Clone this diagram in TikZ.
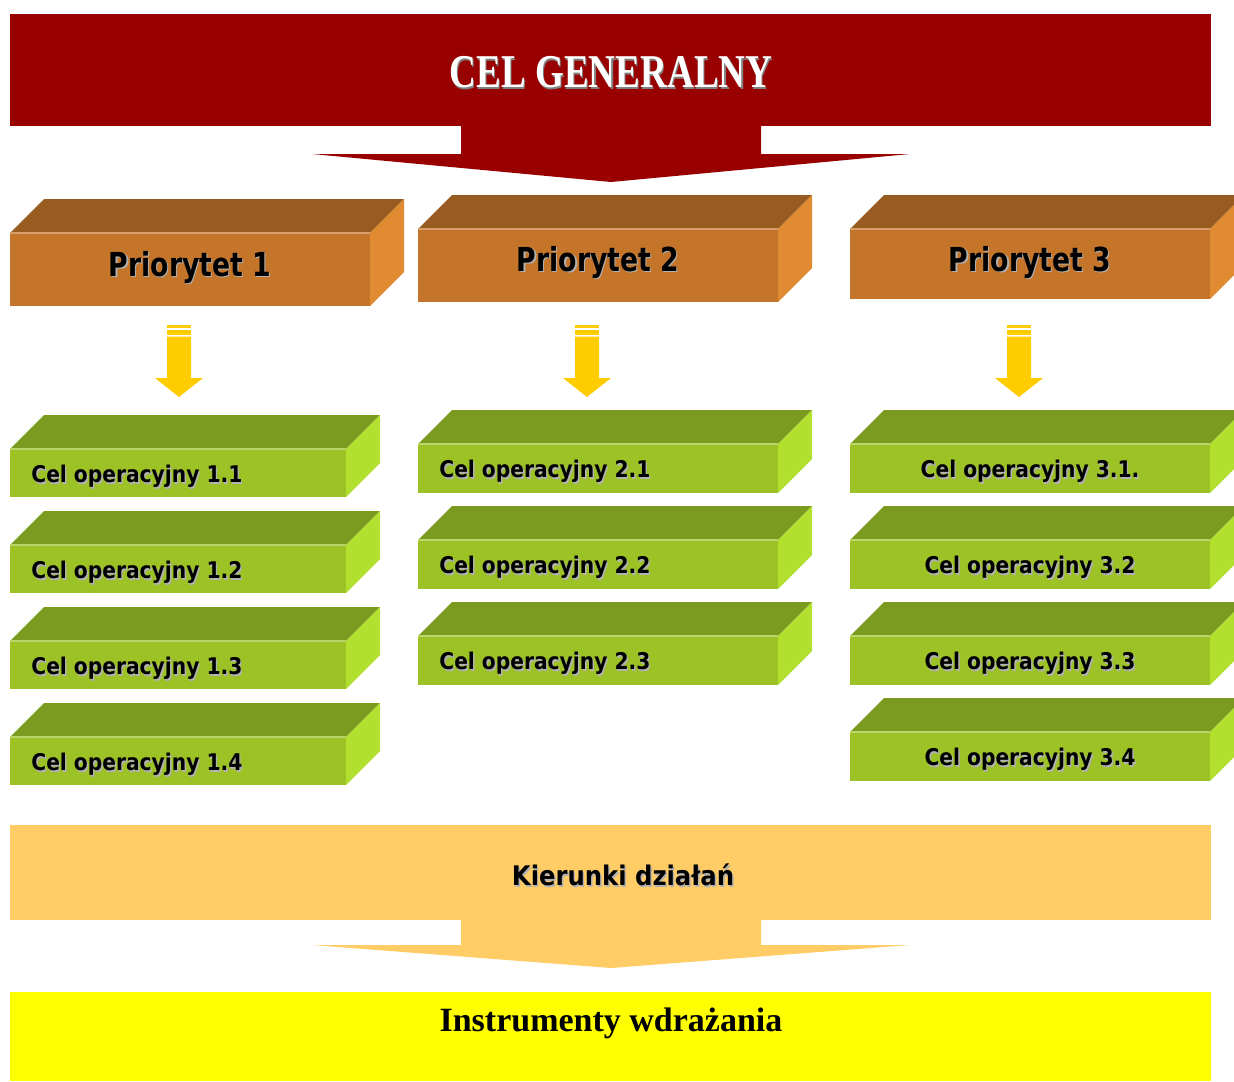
\documentclass[tikz,border=0pt]{standalone}
\usepackage{fontspec}
\setmainfont{Liberation Serif}
\setsansfont{DejaVu Sans}
\usepackage{graphicx}

\definecolor{celred}{HTML}{990000}
\definecolor{prfront}{HTML}{C4752A}
\definecolor{prtop}{HTML}{995C20}
\definecolor{prside}{HTML}{E08A32}
\definecolor{opfront}{HTML}{9CC226}
\definecolor{optop}{HTML}{7A9A20}
\definecolor{opside}{HTML}{B2E02E}
\definecolor{kierfill}{HTML}{FFCC66}
\definecolor{instfill}{HTML}{FFFF00}
\definecolor{arryel}{HTML}{FFCC00}

% text with a small grey shadow, squeezed sideways
\newcommand{\cien}[3]{\scalebox{#1}[1]{\makebox[0pt][l]{\hspace{0.8pt}\raisebox{-0.8pt}{\textcolor{#2}{#3}}}#3}}

% block: name, x, y (front top), width, height, colour prefix
\newcommand{\klocek}[6]{%
  \fill[#6front] (#2,#3) rectangle (#2+#4,#3+#5);
  \fill[#6top] (#2,#3) -- (#2+34,#3-34) -- (#2+#4+34,#3-34) -- (#2+#4,#3) -- cycle;
  \fill[#6side] (#2+#4,#3) -- (#2+#4+34,#3-34) -- (#2+#4+34,#3+#5-34) -- (#2+#4,#3+#5) -- cycle;
  \draw[#6front!70!white, line width=0.6pt] (#2,#3) -- (#2+#4,#3);
  \coordinate (#1) at (#2+#4/2,#3+#5/2);
}

% small yellow arrow, centre x
\newcommand{\strzalka}[1]{%
  \fill[arryel] (#1-12,325) rectangle (#1+12,328);
  \fill[arryel] (#1-12,330) rectangle (#1+12,334.5);
  \fill[arryel] (#1-12,336.5) -- (#1+12,336.5) -- (#1+12,378) -- (#1+24,378)
    -- (#1,397) -- (#1-24,378) -- (#1-12,378) -- cycle;
}

\tikzset{
  celtext/.style={font=\rmfamily\bfseries\fontsize{23.5}{26}\selectfont, text=white, inner sep=0pt},
  prtext/.style={font=\sffamily\bfseries\fontsize{16.5}{19}\selectfont, text=black, inner sep=0pt},
  optext/.style={font=\sffamily\bfseries\fontsize{11.5}{14}\selectfont, text=black, inner sep=0pt},
  kiertext/.style={font=\sffamily\bfseries\fontsize{13.5}{16}\selectfont, text=black, inner sep=0pt},
  insttext/.style={font=\rmfamily\bfseries\fontsize{17}{20}\selectfont, text=black, inner sep=0pt}
}

\begin{document}
\begin{tikzpicture}[x=0.5pt, y=-0.5pt]
\clip (0,0) rectangle (1234,1081);

% general goal
\fill[celred] (10,14) rectangle (1211,126);
\fill[celred] (461,126) -- (761,126) -- (761,154) -- (910,154) -- (611,182) -- (312,154) -- (461,154) -- cycle;
\node[celtext] (cel) at (611,73) {\cien{0.79}{gray}{CEL GENERALNY}};

% priorities
\klocek{p1}{10}{233}{360}{73}{pr};
\klocek{p2}{418}{229}{360}{73}{pr};
\klocek{p3}{850}{229}{360}{70}{pr};
\node[prtext] (tp1) at (190,268) {\cien{0.81}{gray!60}{Priorytet 1}};
\node[prtext] (tp2) at (598,263) {\cien{0.81}{gray!60}{Priorytet 2}};
\node[prtext] (tp3) at (1030,263) {\cien{0.81}{gray!60}{Priorytet 3}};

\strzalka{179};
\strzalka{587};
\strzalka{1019};

% operational goals
\foreach \n/\yy in {1/449,2/545,3/641,4/737} {
  \klocek{c1\n}{10}{\yy}{336}{48}{op};
  \node[optext, anchor=west] (tc1\n) at (31,\yy+28) {\cien{0.88}{gray!60}{Cel operacyjny 1.\n}};
}
\foreach \n/\yy in {1/444,2/540,3/636} {
  \klocek{c2\n}{418}{\yy}{360}{49}{op};
  \node[optext, anchor=west] (tc2\n) at (439,\yy+28) {\cien{0.88}{gray!60}{Cel operacyjny 2.\n}};
}
\foreach \n/\yy in {1/444,2/540,3/636,4/732} {
  \klocek{c3\n}{850}{\yy}{360}{49}{op};
}
\node[optext] (tc31) at (1030,472) {\cien{0.88}{gray!60}{Cel operacyjny 3.1.}};
\node[optext] (tc32) at (1030,568) {\cien{0.88}{gray!60}{Cel operacyjny 3.2}};
\node[optext] (tc33) at (1030,664) {\cien{0.88}{gray!60}{Cel operacyjny 3.3}};
\node[optext] (tc34) at (1030,760) {\cien{0.88}{gray!60}{Cel operacyjny 3.4}};

% directions of action
\fill[kierfill] (10,825) rectangle (1211,920);
\fill[kierfill] (461,920) -- (761,920) -- (761,945) -- (910,945) -- (611,968) -- (312,945) -- (461,945) -- cycle;
\node[kiertext] (kier) at (623,876) {\cien{0.9}{gray!60}{Kierunki działań}};

% implementation tools
\fill[instfill] (10,992) rectangle (1211,1081);
\node[insttext] (inst) at (611,1023) {Instrumenty wdrażania};
\end{tikzpicture}
\end{document}
